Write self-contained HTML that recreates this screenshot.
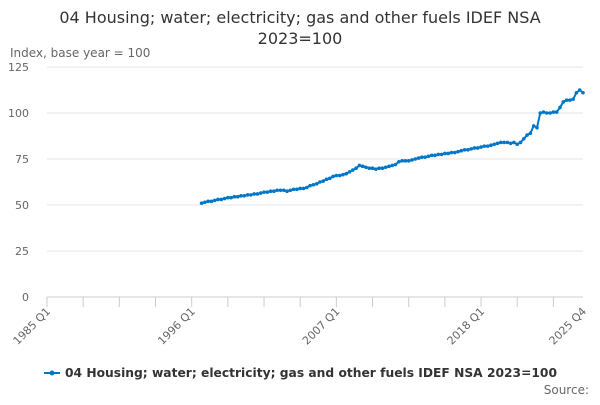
<!DOCTYPE html>
<html><head><meta charset="utf-8"><style>
body{margin:0;background:#fff;font-family:"Liberation Sans","DejaVu Sans",sans-serif;}
svg text{font-family:"DejaVu Sans","Liberation Sans",sans-serif;}
</style></head><body>
<svg width="600" height="400" id="c">
<text x="300" y="23" text-anchor="middle" font-size="16" fill="#333">04 Housing; water; electricity; gas and other fuels IDEF NSA</text>
<text x="300" y="44" text-anchor="middle" font-size="16" fill="#333">2023=100</text>
<text x="10" y="57" font-size="12" fill="#666">Index, base year = 100</text>
<g id="grid"></g><g id="xt"></g><g id="ln"></g>
<g>
<line x1="44" y1="373" x2="60" y2="373" stroke="#0077c8" stroke-width="2"/>
<circle cx="52" cy="373" r="2.5" fill="#0077c8"/>
<text x="65" y="377" font-size="12.2" font-weight="bold" fill="#333" textLength="492" lengthAdjust="spacingAndGlyphs">04 Housing; water; electricity; gas and other fuels IDEF NSA 2023=100</text>
</g>
<text x="589" y="394" text-anchor="end" font-size="12" fill="#666">Source:</text>
</svg>
<script>
const yTicks=[0,25,50,75,100,125];
const xLabels=["1985 Q1","1996 Q1","2007 Q1","2018 Q1","2025 Q4"];
const xLabelIdx=[0,44,88,132,163];
const startIdx=47;
const values=[51,
51.5,52,52,52.5, 53,53,53.5,54, 54,54.5,54.5,55, 55,55.5,55.5,56, 56,56.5,57,57,
57.5,57.5,58,58, 58,57.5,58,58.5, 58.5,59,59,59.5, 60.5,61,61.5,62.5, 63,64,64.5,65.5,
66,66,66.5,67, 68,69,70,71.5, 71,70.5,70,70, 69.5,70,70,70.5, 71,71.5,72,73.5,
74,74,74,74.5, 75,75.5,76,76, 76.5,77,77,77.5, 77.5,78,78,78.5, 78.5,79,79.5,80,
80,80.5,81,81, 81.5,82,82,82.5, 83,83.5,84,84, 84,83.5,84,83, 84,86,88,89,
93,92,100,100.5, 100,100,100.5,100.5, 103,106,107,107, 107.5,111,112.5,111];
const NS="http://www.w3.org/2000/svg";
const x=i=>47+i*(536/163), y=v=>297-v*(230/125);
const grid=document.getElementById('grid');
yTicks.forEach(t=>{
 const l=document.createElementNS(NS,'line');
 
 
 l.setAttribute('x1',47);l.setAttribute('x2',583);l.setAttribute('y1',y(t));l.setAttribute('y2',y(t));
 l.setAttribute('stroke',t===0?'#ccc':'#e6e6e6');grid.appendChild(l);
 const tx=document.createElementNS(NS,'text');
 
 
 tx.setAttribute('x',29);tx.setAttribute('y',y(t)+4);tx.setAttribute('text-anchor','end');
 tx.setAttribute('font-size','11');tx.setAttribute('fill','#666');tx.textContent=t;grid.appendChild(tx);
});
const xt=document.getElementById('xt');
for(let i=0;i<=163;i+=11){
 const l=document.createElementNS(NS,'line');
 
 
 l.setAttribute('x1',x(i));l.setAttribute('x2',x(i));l.setAttribute('y1',297);l.setAttribute('y2',307);
 l.setAttribute('stroke','#ccc');xt.appendChild(l);
}
xLabels.forEach((s,k)=>{
 const tx=document.createElementNS(NS,'text');
 
 
 const px=x(xLabelIdx[k])+4;
 tx.setAttribute('x',px);tx.setAttribute('y',312);tx.setAttribute('text-anchor','end');
 tx.setAttribute('transform',`rotate(-45 ${px} 312)`);
 tx.setAttribute('font-size','11');tx.setAttribute('fill','#666');tx.textContent=s;xt.appendChild(tx);
});
const ln=document.getElementById('ln');
const p=document.createElementNS(NS,'polyline');


p.setAttribute('points',values.map((v,i)=>x(startIdx+i)+','+y(v)).join(' '));
p.setAttribute('fill','none');p.setAttribute('stroke','#0077c8');p.setAttribute('stroke-width','2');
ln.appendChild(p);
values.forEach((v,i)=>{
 const c=document.createElementNS(NS,'circle');
 
 
 c.setAttribute('cx',x(startIdx+i));c.setAttribute('cy',y(v));c.setAttribute('r',1.8);
 c.setAttribute('fill','#0077c8');ln.appendChild(c);
});
</script>
</body></html>
